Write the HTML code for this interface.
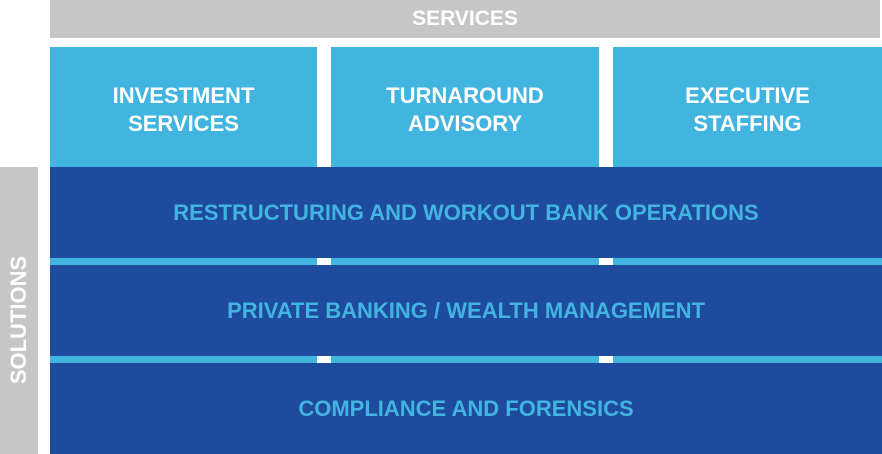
<!DOCTYPE html>
<html><head><style>
body{margin:0;width:882px;height:454px;background:#fff;position:relative;overflow:hidden;font-family:"Liberation Sans",sans-serif;font-weight:bold}
div{position:absolute;box-sizing:border-box}
.col{top:47px;height:120px;padding-top:5px;background:#41b4e0;color:#fff;font-size:22px;display:flex;align-items:center;justify-content:center;text-align:center;line-height:28px}
.band{left:50px;width:832px;background:#1f4b9e;color:#41b4e0;font-size:22px;display:flex;align-items:center;justify-content:center}
.strip{left:50px;width:832px;height:7px;background:#41b4e0}
.gap{width:14px;height:7px;background:#fff}
</style></head><body>
<div style="left:50px;top:0;width:830px;height:38px;background:#c6c6c6;color:#fff;font-size:21px;display:flex;align-items:center;justify-content:center">SERVICES</div>
<div class="col" style="left:50px;width:267px">INVESTMENT<br>SERVICES</div>
<div class="col" style="left:331px;width:268px">TURNAROUND<br>ADVISORY</div>
<div class="col" style="left:613px;width:269px">EXECUTIVE<br>STAFFING</div>
<div style="left:0;top:167px;width:38px;height:287px;background:#c6c6c6"><span style="position:absolute;left:19px;top:153px;transform:translate(-50%,-50%) rotate(-90deg);color:#fff;font-size:22px;white-space:nowrap">SOLUTIONS</span></div>
<div class="band" style="top:167px;height:91px">RESTRUCTURING AND WORKOUT BANK OPERATIONS</div>
<div class="strip" style="top:258px"></div>
<div class="gap" style="left:317px;top:258px"></div>
<div class="gap" style="left:599px;top:258px"></div>
<div class="band" style="top:265px;height:91px">PRIVATE BANKING / WEALTH MANAGEMENT</div>
<div class="strip" style="top:356px"></div>
<div class="gap" style="left:317px;top:356px"></div>
<div class="gap" style="left:599px;top:356px"></div>
<div class="band" style="top:363px;height:91px">COMPLIANCE AND FORENSICS</div>
</body></html>
